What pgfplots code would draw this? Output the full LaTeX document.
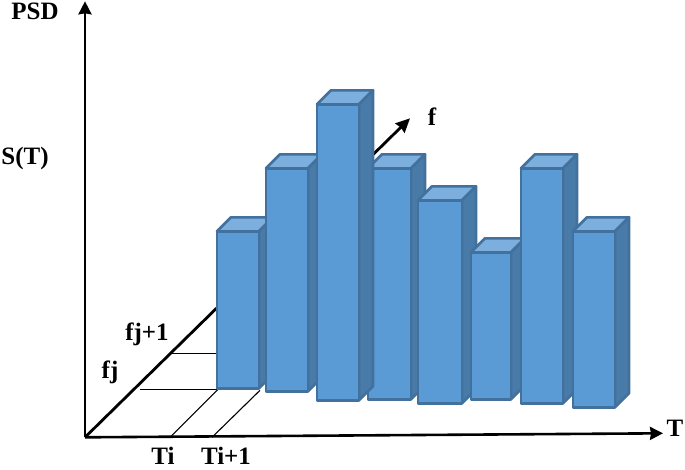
\documentclass[border=0pt]{standalone}
\usepackage{fontspec}
\setmainfont{Liberation Serif}
\usepackage{pgfplots}
\pgfplotsset{compat=1.18}
\usetikzlibrary{arrows.meta}
\definecolor{front}{HTML}{5B9BD5}
\definecolor{topf}{HTML}{7CAFDE}
\definecolor{sidef}{HTML}{497BA9}
\definecolor{edge}{HTML}{41719C}
\pgfplotsset{
  F/.style={draw=edge,line width=2.6pt,line join=round,fill=front,no markers},
  TP/.style={draw=edge,line width=2.6pt,line join=round,fill=topf,no markers},
  S/.style={draw=edge,line width=2.6pt,line join=round,fill=sidef,no markers},
  L/.style={black,no markers}
}
\tikzset{lab/.style={font=\fontsize{25}{27}\selectfont\bfseries,inner sep=0pt}}
\begin{document}
\begin{tikzpicture}
\begin{axis}[
  scale only axis,width=685pt,height=469pt,
  xmin=0,xmax=685,ymin=0,ymax=469,y dir=reverse,
  hide axis,clip=false]
% axes
\addplot[L,line width=2.6pt,-{Stealth[length=13pt,width=13pt,inset=1pt]}] coordinates {(85,437) (85,1)};
\addplot[L,line width=2.6pt,-{Stealth[length=13pt,width=13pt,inset=1pt]}] coordinates {(85,437) (663,433)};
\addplot[L,line width=2.8pt,-{Stealth[length=14pt,width=13pt,inset=1pt]}] coordinates {(85,437) (410,118)};
% grid lines
\addplot[L,line width=1.1pt] coordinates {(170,353) (217,353)};
\addplot[L,line width=1.6pt] coordinates {(140,389) (217,389)};
\addplot[L,line width=1.1pt] coordinates {(170,437) (218,389)};
\addplot[L,line width=1.1pt] coordinates {(212,437) (260,390)};
% bar 1
\addplot[TP] coordinates {(217,231) (231,217) (273,217) (259,231)} --cycle;
\addplot[S] coordinates {(259,231) (273,217) (273,374) (259,388)} --cycle;
\addplot[F] coordinates {(217,231) (259,231) (259,388) (217,388)} --cycle;
% bar 2
\addplot[TP] coordinates {(266,168) (280,154) (322,154) (308,168)} --cycle;
\addplot[S] coordinates {(308,168) (322,154) (322,377) (308,391)} --cycle;
\addplot[F] coordinates {(266,168) (308,168) (308,391) (266,391)} --cycle;
% bar 4
\addplot[TP] coordinates {(368,168) (382,154) (425,154) (411,168)} --cycle;
\addplot[S] coordinates {(411,168) (425,154) (425,385) (411,399)} --cycle;
\addplot[F] coordinates {(368,168) (411,168) (411,399) (368,399)} --cycle;
% bar 3
\addplot[TP] coordinates {(317,104) (331,90) (373,90) (359,104)} --cycle;
\addplot[S] coordinates {(359,104) (373,90) (373,386) (359,400)} --cycle;
\addplot[F] coordinates {(317,104) (359,104) (359,400) (317,400)} --cycle;
% bar 5
\addplot[TP] coordinates {(418,200) (432,186) (476,186) (462,200)} --cycle;
\addplot[S] coordinates {(462,200) (476,186) (476,389) (462,403)} --cycle;
\addplot[F] coordinates {(418,200) (462,200) (462,403) (418,403)} --cycle;
% bar 6
\addplot[TP] coordinates {(471,252) (485,238) (525,238) (511,252)} --cycle;
\addplot[S] coordinates {(511,252) (525,238) (525,385) (511,399)} --cycle;
\addplot[F] coordinates {(471,252) (511,252) (511,399) (471,399)} --cycle;
% bar 7
\addplot[TP] coordinates {(521,168) (535,154) (577,154) (563,168)} --cycle;
\addplot[S] coordinates {(563,168) (577,154) (577,389) (563,403)} --cycle;
\addplot[F] coordinates {(521,168) (563,168) (563,403) (521,403)} --cycle;
% bar 8
\addplot[TP] coordinates {(573,231) (587,217) (629,217) (615,231)} --cycle;
\addplot[S] coordinates {(615,231) (629,217) (629,393) (615,407)} --cycle;
\addplot[F] coordinates {(573,231) (615,231) (615,407) (573,407)} --cycle;
% labels
\node[lab] at (axis cs:35,11) {PSD};
\node[lab] at (axis cs:25,158) {S(T)};
\node[lab] at (axis cs:432,116) {f};
\node[lab] at (axis cs:675,428) {T};
\node[lab] at (axis cs:110,372) {fj};
\node[lab] at (axis cs:147,334) {fj+1};
\node[lab] at (axis cs:163,456) {Ti};
\node[lab] at (axis cs:226,456) {Ti+1};
\path (axis cs:0,0) (axis cs:685,469);
\end{axis}
\end{tikzpicture}
\end{document}
